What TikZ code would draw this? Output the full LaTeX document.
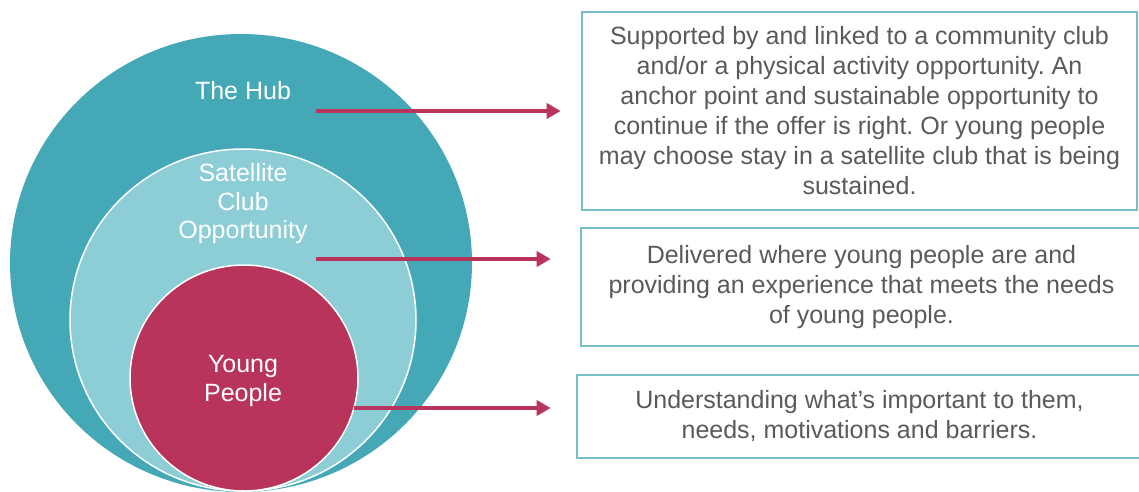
\documentclass[tikz,border=0pt]{standalone}
\usepackage{fontspec}
\setmainfont{Liberation Sans}
\usetikzlibrary{arrows.meta,shapes.geometric,calc}
\definecolor{hubteal}{RGB}{69,168,182}
\definecolor{satteal}{RGB}{141,205,214}
\definecolor{crimson}{RGB}{184,52,90}
\definecolor{boxline}{RGB}{118,192,202}
\definecolor{txtgray}{RGB}{90,90,90}
\tikzset{
  ring/.style={ellipse, inner sep=0pt, outer sep=0pt},
  circtext/.style={text=white, align=center, font=\fontsize{25}{28.5}\selectfont},
  infobox/.style={draw=boxline, line width=2.6pt, fill=white, align=center, inner sep=0pt,
    text=txtgray, font=\fontsize{25}{30}\selectfont},
  linkarrow/.style={draw=crimson, line width=3.5pt, -{Triangle[length=14pt,width=15pt]}}
}
\begin{document}
\frenchspacing
\begin{tikzpicture}[x=1pt,y=-1pt]
\useasboundingbox (0,0) rectangle (1139,491);
\fill[white] (0,0) rectangle (1139,491);
% circles
\node[ring, fill=hubteal, minimum width=462pt, minimum height=458pt] (hub) at (241,263) {};
\node[ring, fill=satteal, draw=white, line width=1.5pt, minimum width=346pt, minimum height=342pt] (sat) at (243,320) {};
\node[ring, fill=crimson, draw=white, line width=1.5pt, minimum width=228pt, minimum height=226pt] (yp) at (244,378) {};
% labels
\node[circtext] (hubl) at (243,91) {The Hub};
\node[circtext] (satl) at (243,204) {Satellite\\Club\\Opportunity};
\node[circtext] (ypl) at (243,381) {Young\\People};
% boxes
\node[infobox, minimum width=555pt, minimum height=198pt] (b1) at (859.5,111)
  {Supported by and linked to a community club\\
   and/or a physical activity opportunity. An\\
   anchor point and sustainable opportunity to\\
   continue if the offer is right. Or young people\\
   may choose stay in a satellite club that is being\\
   sustained.};
\node[infobox, minimum width=561pt, minimum height=118pt] (b2) at (861.5,287)
  {Delivered where young people are and\\
   providing an experience that meets the needs\\
   of young people.};
\node[infobox, minimum width=565pt, minimum height=83pt] (b3) at (859.5,416.5)
  {Understanding what’s important to them,\\
   needs, motivations and barriers.};
% arrows
\coordinate (a1) at (316,111);
\coordinate (a2) at (316,259);
\coordinate (a3) at (354,408);
\draw[linkarrow] (a1) -- ([xshift=-20pt]a1 -| b1.west);
\draw[linkarrow] (a2) -- ([xshift=-29pt]a2 -| b2.west);
\draw[linkarrow] (a3) -- ([xshift=-25pt]a3 -| b3.west);
\end{tikzpicture}
\end{document}
